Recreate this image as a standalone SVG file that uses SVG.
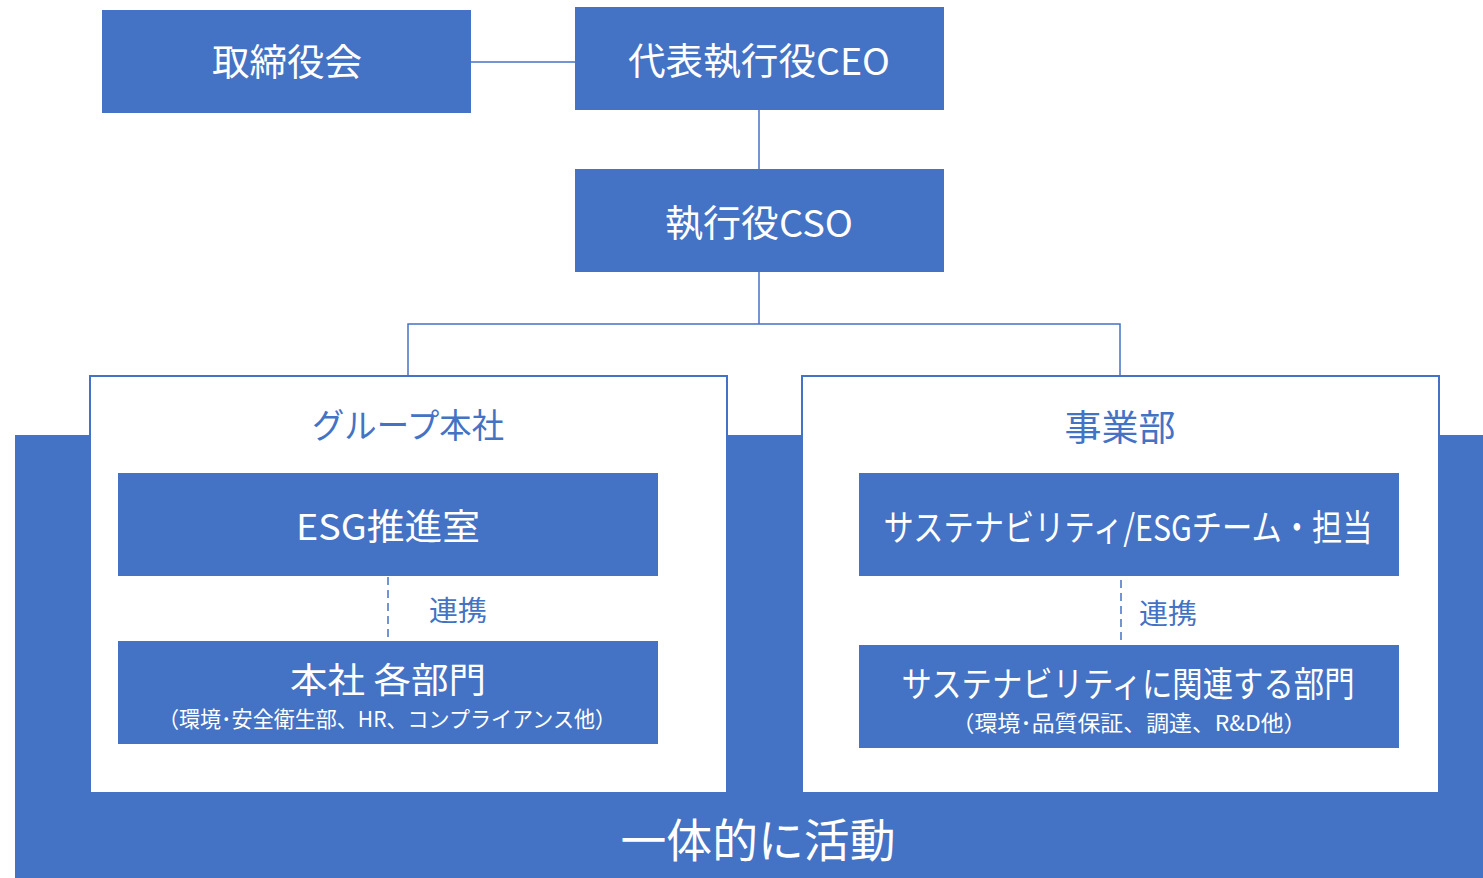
<svg xmlns="http://www.w3.org/2000/svg" width="1483" height="878" viewBox="0 0 1483 878">
<style>
.box{fill:#4472C4}
.panel{fill:#ffffff;stroke:#4472C4;stroke-width:2}
.ln{stroke:#4472C4;stroke-width:1.5;fill:none}
.dash{stroke:#4472C4;stroke-width:1.5;fill:none;stroke-dasharray:8,5}
text{font-family:"Noto Sans CJK JP","Noto Sans",sans-serif;text-anchor:middle}
.w{fill:#ffffff}
.b{fill:#4472C4}
</style>
<rect x="0" y="0" width="1483" height="878" fill="#ffffff"/>
<g id="background">
<rect class="box" x="15" y="435" width="1468" height="443"/>
<text class="w" x="758" y="857" font-size="46" textLength="275" lengthAdjust="spacingAndGlyphs">一体的に活動</text>
</g>
<g id="panel-group">
<rect class="panel" x="90" y="376" width="637" height="417"/>
<text class="b" x="408" y="438" font-size="34" textLength="192" lengthAdjust="spacingAndGlyphs">グループ本社</text>
</g>
<g id="panel-business">
<rect class="panel" x="802" y="376" width="637" height="417"/>
<text class="b" x="1120" y="441" font-size="36" textLength="111" lengthAdjust="spacingAndGlyphs">事業部</text>
</g>
<g id="board">
<rect class="box" x="102" y="10" width="369" height="103"/>
<text class="w" x="287" y="76" font-size="37" textLength="150" lengthAdjust="spacingAndGlyphs">取締役会</text>
</g>
<g id="ceo">
<rect class="box" x="575" y="7" width="369" height="103"/>
<text class="w" x="759" y="75" font-size="37" textLength="262" lengthAdjust="spacingAndGlyphs">代表執行役CEO</text>
</g>
<g id="cso">
<rect class="box" x="575" y="169" width="369" height="103"/>
<text class="w" x="759" y="237" font-size="37" textLength="188" lengthAdjust="spacingAndGlyphs">執行役CSO</text>
</g>
<g id="esg-office">
<rect class="box" x="118" y="473" width="540" height="103"/>
<text class="w" x="388" y="540" font-size="36" textLength="184" lengthAdjust="spacingAndGlyphs">ESG推進室</text>
</g>
<g id="link-left">
<text class="b" x="458" y="621" font-size="28" textLength="58" lengthAdjust="spacingAndGlyphs">連携</text>
</g>
<g id="hq-depts">
<rect class="box" x="118" y="641" width="540" height="103"/>
<text class="w" x="388" y="693" font-size="35" textLength="196" lengthAdjust="spacingAndGlyphs">本社 各部門</text>
<text class="w" x="387" y="727" font-size="22" textLength="458" lengthAdjust="spacingAndGlyphs">（環境･安全衛生部、HR、コンプライアンス他）</text>
</g>
<g id="esg-team">
<rect class="box" x="859" y="473" width="540" height="103"/>
<text class="w" x="1128" y="541" font-size="36" textLength="489" lengthAdjust="spacingAndGlyphs">サステナビリティ/ESGチーム・担当</text>
</g>
<g id="link-right">
<text class="b" x="1168" y="624" font-size="28" textLength="58" lengthAdjust="spacingAndGlyphs">連携</text>
</g>
<g id="related-depts">
<rect class="box" x="859" y="645" width="540" height="103"/>
<text class="w" x="1128" y="697" font-size="35" textLength="453" lengthAdjust="spacingAndGlyphs">サステナビリティに関連する部門</text>
<text class="w" x="1129" y="731" font-size="22" textLength="355" lengthAdjust="spacingAndGlyphs">（環境･品質保証、調達、R&amp;D他）</text>
</g>
<g id="connectors">
<line class="ln" x1="471" y1="62" x2="575" y2="62"/>
<line class="ln" x1="759" y1="110" x2="759" y2="169"/>
<line class="ln" x1="759" y1="272" x2="759" y2="324"/>
<polyline class="ln" points="408,376 408,324 1120,324 1120,376"/>
<line class="dash" x1="388" y1="577" x2="388" y2="641"/>
<line class="dash" x1="1121" y1="580" x2="1121" y2="645"/>
</g>
</svg>
